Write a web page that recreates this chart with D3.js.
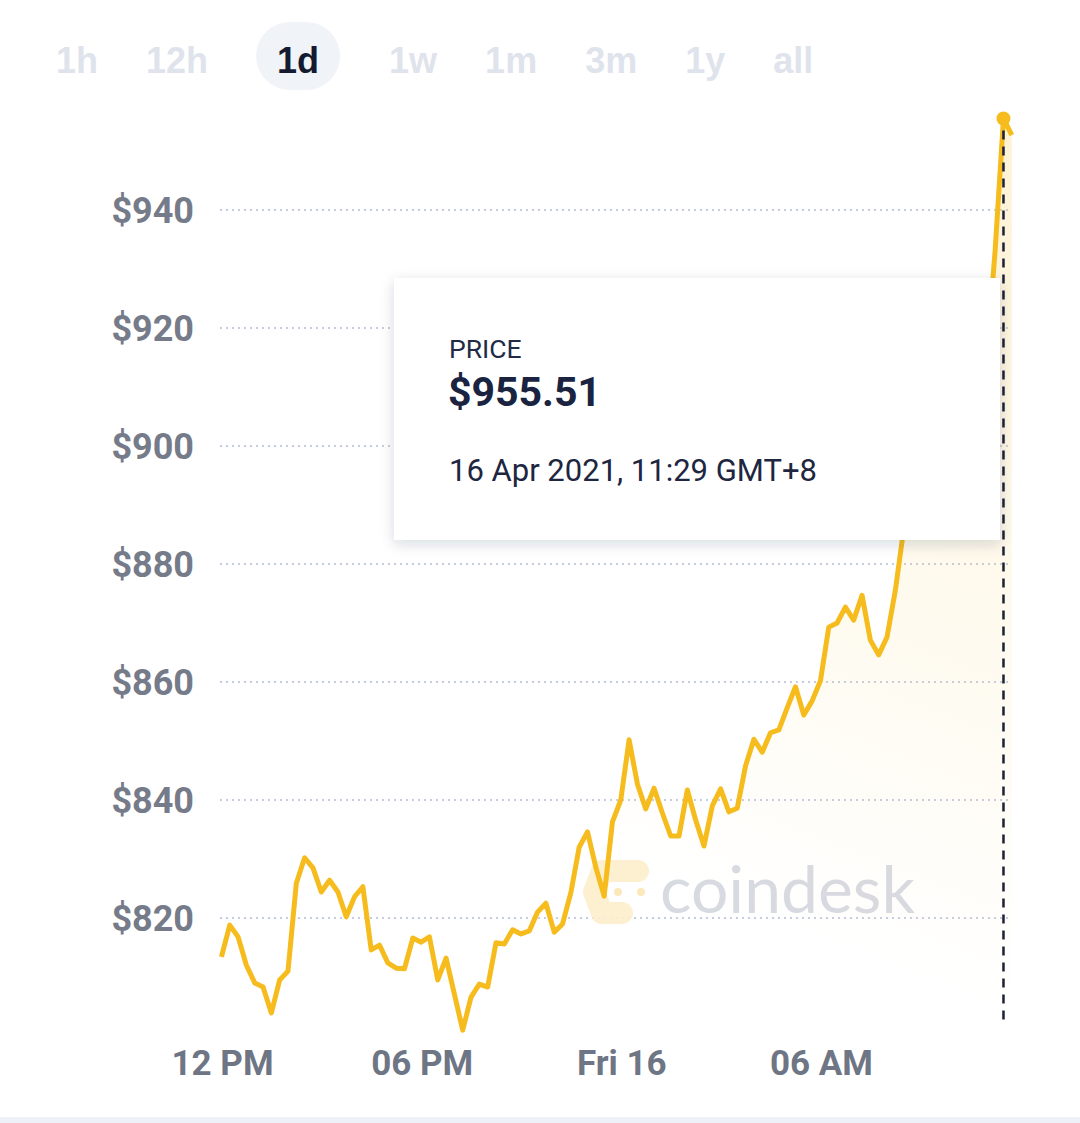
<!DOCTYPE html>
<html>
<head>
<meta charset="utf-8">
<script src="https://cdn.jsdelivr.net/npm/d3@7"></script>
<style>
  body { margin: 0; background: #fff; }
  svg { display: block; font-family: Roboto, "Liberation Sans", sans-serif; }
</style>
</head>
<body>
<div id="chart"></div>
<script>
// range buttons across the top
var ranges = ["1h", "12h", "1d", "1w", "1m", "3m", "1y", "all"];
var activeRange = "1d";

// y axis
var yTicks = [820, 840, 860, 880, 900, 920, 940];

// x axis
var xTickTimes = ["2021-04-15T12:00:00Z", "2021-04-15T18:00:00Z", "2021-04-16T00:00:00Z", "2021-04-16T06:00:00Z"];
var xTickLabels = ["12 PM", "06 PM", "Fri 16", "06 AM"];

// price every 15 minutes, starting 15 Apr 11:59
var startTime = "2021-04-15T11:59:00Z";
var stepMinutes = 15;
var prices = [
  813.4, 818.8, 816.8, 812.0, 809.0, 808.3, 803.9, 809.5, 811.0, 825.9,
  830.2, 828.5, 824.4, 826.4, 824.4, 820.2, 823.6, 825.3, 814.6, 815.4,
  812.4, 811.5, 811.4, 816.6, 815.9, 816.8, 809.5, 813.2, 807.1, 801.0,
  806.6, 808.8, 808.3, 815.8, 815.6, 818.0, 817.3, 817.8, 821.0, 822.5,
  817.6, 819.0, 824.3, 832.0, 834.6, 828.6, 823.7, 836.3, 840.0, 850.2,
  842.7, 838.5, 842.0, 837.8, 833.9, 833.9, 841.7, 836.6, 832.2, 839.0,
  841.9, 838.0, 838.6, 845.8, 850.3, 848.1, 851.4, 851.9, 855.6, 859.2,
  854.4, 856.8, 860.2, 869.3, 870.0, 872.7, 870.5, 874.7, 867.1, 864.6,
  867.6, 875.5, 885.8, 893.0, 898.0, 901.0, 896.0, 904.0, 909.0, 906.0,
  912.0, 910.0, 915.3, 933.2, 955.51, 952.7
];

// hovered point
var hoverIndex = 94;
var hoverLabel = "PRICE";
var hoverPrice = "$955.51";
var hoverDate = "16 Apr 2021, 11:29 GMT+8";

var svgWidth = 1080;
var svgHeight = 1123;

var t0 = new Date(startTime).getTime();
var data = prices.map((p, i) => ({ t: new Date(t0 + i * stepMinutes * 60000), v: p }));

var svg = d3.select("#chart")
  .append("svg")
  .attr("width", svgWidth)
  .attr("height", svgHeight);

// scales: 12 PM sits at x=222, 06 AM at x=821
var xScale = d3.scaleTime()
  .domain([new Date(xTickTimes[0]), new Date(xTickTimes[3])])
  .range([222, 821]);

var yScale = d3.scaleLinear()
  .domain([820, 940])
  .range([918, 210]);

var plotLeft = 220, plotRight = 1008, plotBottom = 1022;

var defs = svg.append("defs");
var grad = defs.append("linearGradient")
  .attr("id", "areaFill")
  .attr("gradientUnits", "userSpaceOnUse")
  .attr("x1", 1004).attr("y1", 120)
  .attr("x2", 700).attr("y2", 900);
grad.append("stop").attr("offset", 0).attr("stop-color", "#f6c43c").attr("stop-opacity", 0.22);
grad.append("stop").attr("offset", 0.55).attr("stop-color", "#f6c43c").attr("stop-opacity", 0.09);
grad.append("stop").attr("offset", 1).attr("stop-color", "#f6c43c").attr("stop-opacity", 0);

var shadow = defs.append("filter")
  .attr("id", "shadow")
  .attr("x", "-10%").attr("y", "-20%")
  .attr("width", "120%").attr("height", "150%");
shadow.append("feDropShadow")
  .attr("dx", 0).attr("dy", 4)
  .attr("stdDeviation", 7)
  .attr("flood-color", "#1b2440")
  .attr("flood-opacity", 0.16);

// range buttons
var header = svg.append("g");
var cursor = 56;
ranges.forEach(r => {
  var isActive = r === activeRange;
  var g = header.append("g");
  var txt = g.append("text")
    .attr("y", 73)
    .attr("font-family", "'Liberation Sans', Arial, sans-serif")
    .attr("font-weight", "bold")
    .attr("font-size", 36)
    .attr("fill", isActive ? "#141b31" : "#dfe3ec")
    .text(r);
  var w = txt.node().getComputedTextLength();
  if (isActive) {
    cursor += 21;
    g.insert("rect", "text")
      .attr("x", cursor - 21)
      .attr("y", 22)
      .attr("width", w + 42)
      .attr("height", 68)
      .attr("rx", 34)
      .attr("fill", "#f0f3f8");
  }
  txt.attr("x", cursor);
  cursor += w + (isActive ? 70 : 48);
});

// grid lines
svg.append("g")
  .selectAll("line")
  .data(yTicks)
  .enter()
  .append("line")
  .attr("x1", plotLeft)
  .attr("x2", plotRight)
  .attr("y1", d => yScale(d))
  .attr("y2", d => yScale(d))
  .attr("stroke", "#c6cde2")
  .attr("stroke-width", 2)
  .attr("stroke-dasharray", "2,4");

// y axis labels
var leftAxis = d3.axisLeft(yScale)
  .tickValues(yTicks)
  .tickFormat(d => "$" + d)
  .tickSize(0)
  .tickPadding(0);
var yAxisG = svg.append("g")
  .attr("transform", "translate(194,0)")
  .call(leftAxis);
yAxisG.select(".domain").remove();
yAxisG.selectAll("text")
  .attr("font-family", "Roboto, sans-serif")
  .attr("font-weight", "bold")
  .attr("font-size", 36)
  .attr("fill", "#757b89")
  .attr("dy", "0.36em");

// x axis labels
var bottomAxis = d3.axisBottom(xScale)
  .tickValues(xTickTimes.map(d => new Date(d)))
  .tickFormat((d, i) => xTickLabels[i])
  .tickSize(0)
  .tickPadding(0);
var xAxisG = svg.append("g")
  .attr("transform", "translate(0,1075)")
  .call(bottomAxis);
xAxisG.select(".domain").remove();
xAxisG.selectAll("text")
  .attr("font-family", "Roboto, sans-serif")
  .attr("font-weight", "bold")
  .attr("font-size", 35)
  .attr("fill", "#6e7584")
  .attr("dy", 0);

// watermark
var mark = svg.append("g").attr("opacity", 0.9);
mark.append("path")
  .attr("d", "M638,871 L602,871 L594,892 L602,913 L622,913")
  .attr("fill", "none")
  .attr("stroke", "#fcefcd")
  .attr("stroke-width", 22)
  .attr("stroke-linecap", "round")
  .attr("stroke-linejoin", "round");
mark.append("circle").attr("cx", 618).attr("cy", 892).attr("r", 4).attr("fill", "#fbe6b4");
mark.append("circle").attr("cx", 641).attr("cy", 892).attr("r", 4).attr("fill", "#fbe6b4");
mark.append("text")
  .attr("x", 660)
  .attr("y", 913)
  .attr("font-family", "Lato, 'Open Sans', sans-serif")
  .attr("font-size", 66)
  .attr("fill", "#d4d7df")
  .text("coindesk");

// area + line
var area = d3.area()
  .x(d => xScale(d.t))
  .y0(plotBottom)
  .y1(d => yScale(d.v));
svg.append("path")
  .datum(data)
  .attr("d", area)
  .attr("fill", "url(#areaFill)");

var line = d3.line()
  .x(d => xScale(d.t))
  .y(d => yScale(d.v));
svg.append("path")
  .datum(data)
  .attr("d", line)
  .attr("fill", "none")
  .attr("stroke", "#f6bc1d")
  .attr("stroke-width", 5)
  .attr("stroke-linejoin", "round");

// hover marker
var hp = data[hoverIndex];
svg.append("line")
  .attr("x1", xScale(hp.t))
  .attr("x2", xScale(hp.t))
  .attr("y1", yScale(hp.v) + 12)
  .attr("y2", plotBottom)
  .attr("stroke", "#1c2236")
  .attr("stroke-width", 2.5)
  .attr("stroke-dasharray", "9,7");
svg.append("circle")
  .attr("cx", xScale(hp.t))
  .attr("cy", yScale(hp.v))
  .attr("r", 7)
  .attr("fill", "#f6bc1d");

// tooltip
var tip = svg.append("g");
tip.append("rect")
  .attr("x", 394)
  .attr("y", 278)
  .attr("width", 606)
  .attr("height", 262)
  .attr("fill", "#fff")
  .attr("filter", "url(#shadow)");
tip.append("text")
  .attr("x", 449).attr("y", 358)
  .attr("font-size", 26.5)
  .attr("fill", "#222a45")
  .text(hoverLabel);
tip.append("text")
  .attr("x", 448).attr("y", 406)
  .attr("font-size", 41)
  .attr("font-weight", "bold")
  .attr("fill", "#1a2340")
  .text(hoverPrice);
tip.append("text")
  .attr("x", 449).attr("y", 481)
  .attr("font-size", 31)
  .attr("fill", "#1e2640")
  .text(hoverDate);

// bottom strip
svg.append("rect")
  .attr("x", 0).attr("y", 1117)
  .attr("width", svgWidth).attr("height", 6)
  .attr("fill", "#eef2f8");
</script>
</body>
</html>
